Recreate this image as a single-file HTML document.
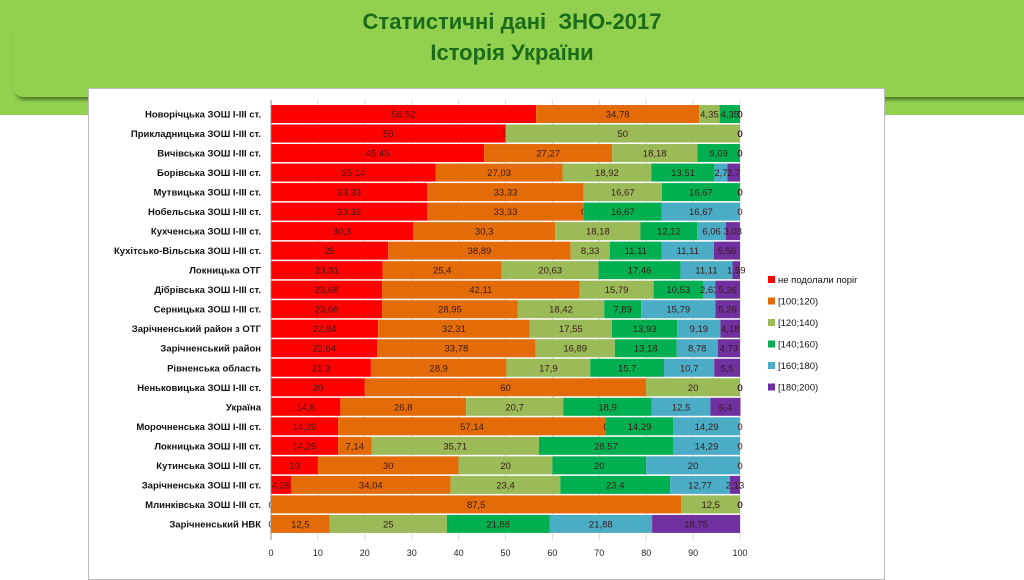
<!DOCTYPE html>
<html><head><meta charset="utf-8">
<style>
html,body{margin:0;padding:0;width:1024px;height:574px;overflow:hidden;background:#fff;font-family:"Liberation Sans",sans-serif;}
#band{position:absolute;left:0;top:0;width:1024px;height:115px;background:#92d050;}
#pill{position:absolute;left:13px;top:22px;width:1040px;height:75px;background:#92d050;border-radius:10px;box-shadow:2px 3px 3px rgba(60,90,20,0.7);}
#title{position:absolute;left:0;top:6px;width:1024px;text-align:center;color:#1a6b1a;font-weight:bold;font-size:22px;line-height:31px;}
#box{position:absolute;left:88px;top:88px;width:795px;height:490px;background:#fff;border:1px solid #bbb;}
svg{position:absolute;left:0;top:0;}
</style></head><body>
<div id="band"></div><div id="pill"></div>
<div id="title">Статистичні дані&nbsp; ЗНО-2017<br>Історія України</div>
<div id="box"></div>
<svg id="s" width="1024" height="574" xmlns="http://www.w3.org/2000/svg" font-family="Liberation Sans, sans-serif"></svg>
<script>
var rows=[
["Новорічцька  ЗОШ І-ІІІ ст.",[56.52,34.78,4.35,4.35,0,0]],
["Прикладницька  ЗОШ І-ІІІ ст.",[50,0,50,0,0,0]],
["Вичівська  ЗОШ І-ІІІ ст.",[45.45,27.27,18.18,9.09,0,0]],
["Борівська  ЗОШ І-ІІІ ст.",[35.14,27.03,18.92,13.51,2.7,2.7]],
["Мутвицька  ЗОШ І-ІІІ ст.",[33.33,33.33,16.67,16.67,0,0]],
["Нобельська  ЗОШ І-ІІІ ст.",[33.33,33.33,0,16.67,16.67,0]],
["Кухченська  ЗОШ І-ІІІ ст.",[30.3,30.3,18.18,12.12,6.06,3.03]],
["Кухітсько-Вільська  ЗОШ І-ІІІ ст.",[25,38.89,8.33,11.11,11.11,5.56]],
["Локницька  ОТГ",[23.81,25.4,20.63,17.46,11.11,1.59]],
["Дібрівська  ЗОШ І-ІІІ ст.",[23.68,42.11,15.79,10.53,2.63,5.26]],
["Серницька  ЗОШ І-ІІІ ст.",[23.68,28.95,18.42,7.89,15.79,5.26]],
["Зарічненський район з ОТГ",[22.84,32.31,17.55,13.93,9.19,4.18]],
["Зарічненський  район",[22.64,33.78,16.89,13.18,8.78,4.73]],
["Рівненська  область",[21.3,28.9,17.9,15.7,10.7,5.5]],
["Неньковицька  ЗОШ І-ІІІ ст.",[20,60,20,0,0,0]],
["Україна",[14.8,26.8,20.7,18.9,12.5,6.4]],
["Морочненська  ЗОШ І-ІІІ ст.",[14.29,57.14,0,14.29,14.29,0]],
["Локницька  ЗОШ І-ІІІ ст.",[14.29,7.14,35.71,28.57,14.29,0]],
["Кутинська  ЗОШ І-ІІІ ст.",[10,30,20,20,20,0]],
["Зарічненська  ЗОШ І-ІІІ ст.",[4.26,34.04,23.4,23.4,12.77,2.13]],
["Млинківська  ЗОШ І-ІІІ ст.",[0,87.5,12.5,0,0,0]],
["Зарічненський  НВК",[0,12.5,25,21.88,21.88,18.75]]];
var cols=["#ff0000","#e36c09","#9bbb59","#00b050","#4bacc6","#7030a0"];
var names=["не подолали поріг","[100;120)","[120;140)","[140;160)","[160;180)","[180;200)"];
var x0=271,sc=4.69,y0=105,p=19.52,h=18;
var s='';
for(var i=0;i<=10;i++){var x=x0+i*10*sc;s+='<line x1="'+x+'" y1="100" x2="'+x+'" y2="540" stroke="#d9d9d9"/>';
s+='<text x="'+x+'" y="556" font-size="9" text-anchor="middle" fill="#222">'+(i*10)+'</text>';}
rows.forEach(function(r,j){var y=y0+j*p,c=0;
s+='<text x="261" y="'+(y+12.5)+'" font-size="9.5" font-weight="bold" text-anchor="end" fill="#111">'+r[0]+'</text>';
r[1].forEach(function(v,k){var x=x0+c*sc,w=v*sc;
if(v>0)s+='<rect x="'+x+'" y="'+y+'" width="'+w+'" height="'+h+'" fill="'+cols[k]+'"/>';
var lbl=String(v).replace('.',',');
var tx=v>0?x+w/2:x;
if(v>0||k<=4&&c<100||(c>=99.9))s+='<text x="'+tx+'" y="'+(y+12.5)+'" font-size="9.5" text-anchor="middle" fill="#3a1a1a">'+lbl+'</text>';
c+=v;});});
s+='<line x1="'+x0+'" y1="100" x2="'+x0+'" y2="540" stroke="#888"/>';
names.forEach(function(n,k){var y=280+k*21.5;
s+='<rect x="768" y="'+(y-4)+'" width="7" height="7" fill="'+cols[k]+'"/>';
s+='<text x="778" y="'+(y+3)+'" font-size="9.5" fill="#111">'+n+'</text>';});
document.getElementById('s').innerHTML=s;
</script>
</body></html>
